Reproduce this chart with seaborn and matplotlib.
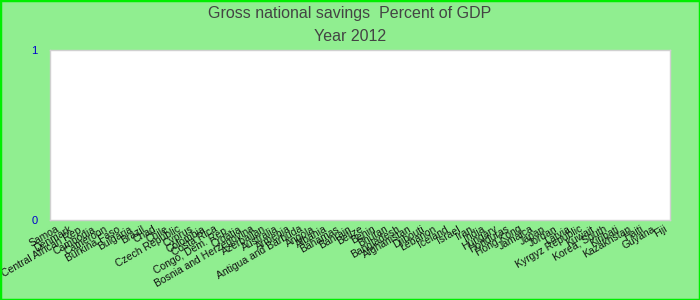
import matplotlib
matplotlib.use("Agg")
import matplotlib.pyplot as plt
import seaborn as sns
import pandas as pd
from matplotlib.patches import Rectangle

countries = [
    "Samoa", "Denmark", "Central African Rep.", "Cambodia", "Cameroon",
    "Burkina Faso", "Bulgaria", "Brazil", "Chad", "Chile",
    "Czech Republic", "Cyprus", "Colombia", "Costa Rica", "Congo, Dem. Rep.",
    "Croatia", "Bosnia and Herzegovina", "Azerbaijan", "Australia", "Armenia",
    "Antigua and Barbuda", "Angola", "Albania", "Bahamas", "Bahrain",
    "Belize", "Benin", "Bhutan", "Bangladesh", "Afghanistan",
    "Djibouti", "Lebanon", "Iceland", "Israel", "Iran",
    "India", "Hungary", "Honduras", "Hong Kong", "Jamaica",
    "Japan", "Jordan", "Latvia", "Kyrgyz Republic", "Kuwait",
    "Korea, South", "Kiribati", "Kazakhstan", "Haiti", "Guyana",
    "Fiji",
]
savings = [0] * len(countries)

df = pd.DataFrame({"country": countries, "savings": savings})

sns.set_theme(style="white")
plt.rcParams["font.family"] = ["Liberation Sans", "DejaVu Sans"]

fig = plt.figure(figsize=(7, 3), dpi=100)
fig.patch.set_facecolor("#90ee90")
fig.patches.append(Rectangle((0, 0), 1, 1, transform=fig.transFigure,
                             fill=False, edgecolor="#00ee00", linewidth=2.5))

ax = fig.add_axes([0.0714, 0.267, 0.886, 0.566])
sns.barplot(data=df, x="country", y="savings", ax=ax, color="#4572a7")
ax.set_facecolor("white")
ax.set_ylim(0, 1)
ax.set_yticks([0, 1])
ax.set_yticklabels(["0", "1"], color="#0000cc", fontsize=8)
ax.tick_params(axis="y", length=0, pad=9)
ax.tick_params(axis="x", length=0, pad=3)
ax.set_xticks(range(len(countries)))
ax.set_xticklabels(countries, rotation=30, ha="right", rotation_mode="anchor",
                   fontsize=7.5, color="#111111")
ax.set_xlabel("")
ax.set_ylabel("")
for s in ax.spines.values():
    s.set_color("#d0d0d0")
    s.set_linewidth(1)

fig.text(0.5, 0.955, "Gross national savings  Percent of GDP", ha="center",
         va="center", fontsize=11.5, color="#444444")
fig.text(0.5, 0.878, "Year 2012", ha="center", va="center", fontsize=11.5,
         color="#444444")

fig.savefig("out.png", dpi=100, facecolor=fig.get_facecolor())
